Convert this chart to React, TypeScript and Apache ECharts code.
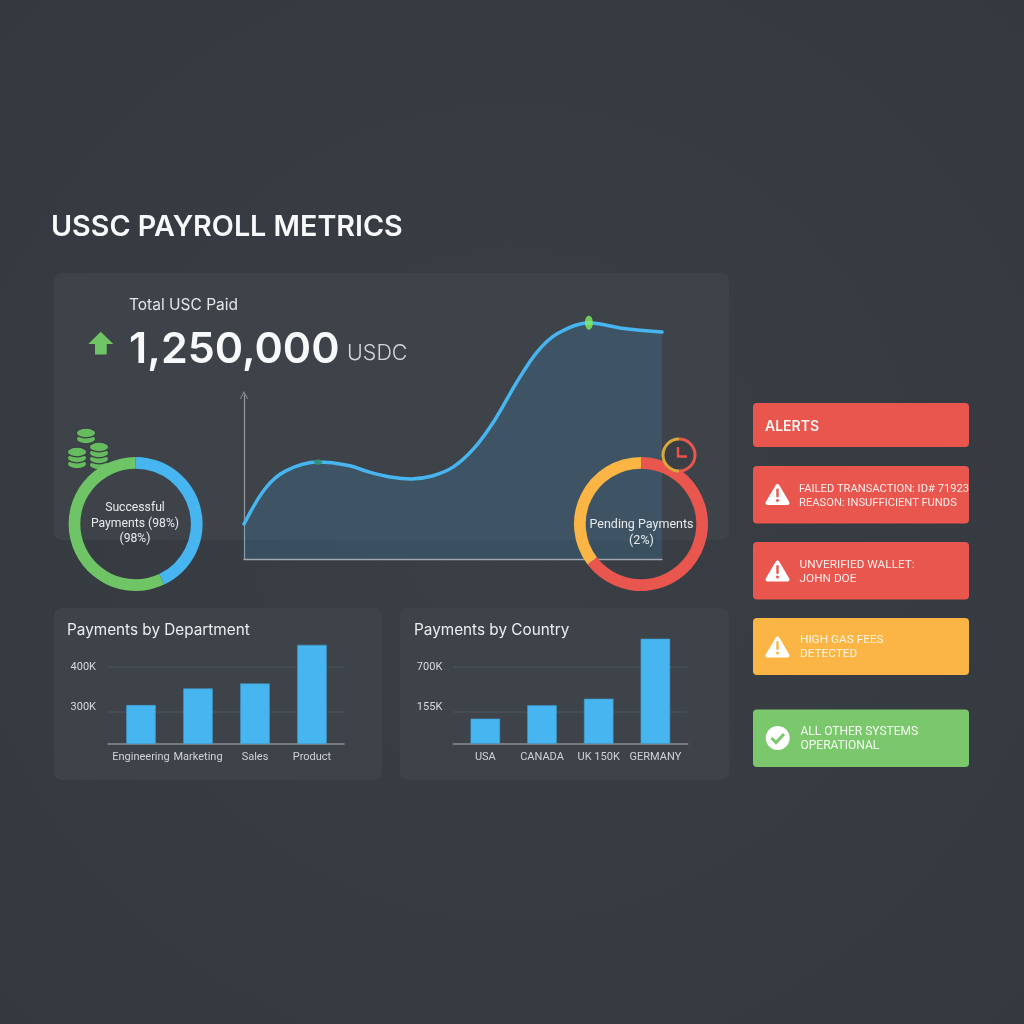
import React, { useEffect, useRef } from "react";
import * as echarts from "echarts";

const FONT = "Inter, 'Noto Sans', sans-serif";
const SMALL = "Roboto, 'Noto Sans', sans-serif";

const pageTitle = "USSC PAYROLL METRICS";
const kpiLabel = "Total USC Paid";
const kpiValue = "1,250,000";
const kpiUnit = "USDC";

const trendX = [0, 5, 10, 17.7, 25, 30, 35, 40, 45, 50, 55, 60, 65, 70, 75, 82.5, 90, 100];
const trendY = [21.3, 42.7, 53.7, 59.1, 57, 53, 50, 48.8, 50.6, 56, 67.4, 84.8, 106.7, 125.9, 137.5, 144.1, 140.9, 138.4];

const successSlices = [43, 57];
const pendingSlices = [64.7, 35.3];
const clockSlices = [50, 50];
const successText = ["Successful", "Payments (98%)", "(98%)"];
const pendingText = ["Pending Payments", "(2%)"];

const deptTitle = "Payments by Department";
const deptCategories = ["Engineering", "Marketing", "Sales", "Product"];
const deptValues = [314, 351, 362, 448];
const deptTicks = [300, 400];
const deptTickLabels = ["300K", "400K"];

const countryTitle = "Payments by Country";
const countryCategories = ["USA", "CANADA", "UK 150K", "GERMANY"];
const countryValues = [227, 348, 408, 952];
const countryTicks = [292, 700];
const countryTickLabels = ["155K", "700K"];

const alertsTitle = "ALERTS";
const failedLines = ["FAILED TRANSACTION: ID# 71923", "REASON: INSUFFICIENT FUNDS"];
const walletLines = ["UNVERIFIED WALLET:", "JOHN DOE"];
const gasLines = ["HIGH GAS FEES", "DETECTED"];
const okLines = ["ALL OTHER SYSTEMS", "OPERATIONAL"];

const RED = "#e9564e";
const ORANGE = "#fbb545";
const GREEN = "#7ac76c";
const BLUE = "#47b5f0";

function txt(text: string, x: number, y: number, size: number, fill: string, weight: number | string = 400, align = "left", family = FONT) {
  return {
    type: "text",
    z: 20,
    silent: true,
    style: { text, x, y, fill, align, verticalAlign: "middle", font: `${weight} ${size}px ${family}` },
  };
}

function panel(x: number, y: number, w: number, h: number, fill: string, r = 8, z = -2) {
  return { type: "rect", z, silent: true, shape: { x, y, width: w, height: h, r }, style: { fill } };
}

function warning(cx: number, cy: number, color: string) {
  return [
    { type: "polygon", z: 20, silent: true, shape: { points: [[cx, cy - 8.5], [cx + 10, cy + 8.5], [cx - 10, cy + 8.5]] }, style: { fill: "#fff", stroke: "#fff", lineWidth: 4, lineJoin: "round" } },
    { type: "rect", z: 21, silent: true, shape: { x: cx - 1.2, y: cy - 6, width: 2.4, height: 9, r: 1 }, style: { fill: color } },
    { type: "circle", z: 21, silent: true, shape: { cx, cy: cy + 6, r: 1.5 }, style: { fill: color } },
  ];
}

function coinStack(cx: number, cy: number, n: number) {
  const out: any[] = [];
  for (let i = n - 1; i >= 0; i--) {
    out.push({ type: "ellipse", z: 1, silent: true, shape: { cx, cy: cy + i * 6, rx: 9.7, ry: 4.8 }, style: { fill: "#66bb5e", stroke: "#3a3f45", lineWidth: 1.2 } });
  }
  return out;
}

function alertBox(y: number, h: number, color: string) {
  return panel(753, y, 216, h, color, 4, 1);
}

function barSet(
  gridIndex: number,
  left: number,
  right: number,
  first: number,
  step: number,
  cats: string[],
  values: number[],
  ticks: number[],
  tickLabels: string[],
  yMin: number,
  yMax: number,
  yMargin: number,
  lift: string,
) {
  const grid = { left, top: 630, width: right - left, height: 113.7 };
  const xAxis = {
    type: "value",
    gridIndex,
    min: (left - first) / step,
    max: (right - first) / step,
    splitLine: { show: false },
    axisTick: { show: false },
    axisLine: { show: true, onZero: false, lineStyle: { color: "#8b8e91", width: 1.6 } },
    axisLabel: {
      customValues: cats.map((_, i) => i),
      formatter: (v: number) => cats[Math.round(v)],
      color: "#d0d3d6",
      fontSize: 11,
      fontFamily: SMALL,
      margin: 7,
      hideOverlap: false,
      showMinLabel: true,
      showMaxLabel: true,
    },
  };
  const yAxis = {
    type: "value",
    gridIndex,
    min: yMin,
    max: yMax,
    axisLine: { show: false },
    axisTick: { show: false, customValues: ticks },
    splitLine: { show: true, lineStyle: { color: "#4a5056", width: 1.5 } },
    axisLabel: {
      customValues: ticks,
      margin: yMargin,
      formatter: (v: number) => {
        const label = tickLabels[ticks.indexOf(v)];
        return v === ticks[0] ? `{${lift}|${label}}` : label;
      },
      color: "#d8dbde",
      fontSize: 11,
      fontFamily: SMALL,
      rich: { [lift]: { padding: [0, 0, 10, 0], color: "#d8dbde", fontSize: 11, fontFamily: SMALL } },
    },
  };
  const series = {
    type: "bar",
    xAxisIndex: gridIndex,
    yAxisIndex: gridIndex,
    barWidth: 29.5,
    silent: true,
    data: values.map((v, i) => [i, v]),
    itemStyle: { color: BLUE, borderColor: "#3d9ccf", borderWidth: 0.6 },
  };
  return { grid, xAxis, yAxis, series };
}

export default function App() {
  const ref = useRef<HTMLDivElement>(null);

  useEffect(() => {
    document.body.style.margin = "0";
    const chart = echarts.init(ref.current!, undefined, { renderer: "svg" });

    const dept = barSet(1, 108, 344, 141, 57, deptCategories, deptValues, deptTicks, deptTickLabels, 228, 481, 12, "d");
    const country = barSet(2, 453.3, 687.7, 485.3, 56.7, countryCategories, countryValues, countryTicks, countryTickLabels, 0, 1031, 11, "c");

    const trend = trendX.map((x, i) => [x, trendY[i]]);
    const peakIdx = trendY.indexOf(Math.max(...trendY));
    const shoulderIdx = trendY.indexOf(Math.max(...trendY.slice(0, 8)));

    const ring = (center: number[], values: number[], colors: string[], radius: number[], z: number) => ({
      type: "pie",
      center,
      radius,
      z,
      silent: true,
      startAngle: 90,
      clockwise: true,
      label: { show: false },
      labelLine: { show: false },
      emphasis: { disabled: true },
      data: values.map((value, i) => ({ value, itemStyle: { color: colors[i] } })),
    });

    chart.setOption({
      animation: false,
      backgroundColor: {
        type: "radial",
        x: 0.5,
        y: 0.5,
        r: 0.75,
        colorStops: [
          { offset: 0, color: "#3a3f45" },
          { offset: 1, color: "#34393f" },
        ],
      },
      grid: [{ left: 244, top: 395, width: 418, height: 164 }, dept.grid, country.grid],
      xAxis: [
        {
          type: "value",
          gridIndex: 0,
          min: 0,
          max: 100,
          axisLabel: { show: false },
          axisTick: { show: false },
          splitLine: { show: false },
          axisLine: { show: true, lineStyle: { color: "#a2a6aa", width: 1.3 } },
        },
        dept.xAxis,
        country.xAxis,
      ],
      yAxis: [
        {
          type: "value",
          gridIndex: 0,
          min: 0,
          max: 100,
          axisLabel: { show: false },
          axisTick: { show: false },
          splitLine: { show: false },
          axisLine: {
            show: true,
            symbol: ["none", "path://M0 10L5 0L10 10L9 10L5 2.5L1 10Z"],
            symbolSize: [8, 8],
            lineStyle: { color: "#94989c", width: 1.2 },
          },
        },
        dept.yAxis,
        country.yAxis,
      ],
      series: [
        {
          type: "line",
          xAxisIndex: 0,
          yAxisIndex: 0,
          data: trend,
          smooth: 0.33,
          clip: false,
          silent: true,
          showSymbol: false,
          z: 2,
          lineStyle: { color: BLUE, width: 3.5, cap: "round" },
          areaStyle: { color: "rgba(64,174,240,0.23)" },
        },
        {
          type: "scatter",
          xAxisIndex: 0,
          yAxisIndex: 0,
          clip: false,
          silent: true,
          z: 3,
          data: [
            { value: trend[peakIdx], symbolSize: [8, 14], itemStyle: { color: "#80ee60" } },
            { value: trend[shoulderIdx], symbolSize: [8, 6], itemStyle: { color: "#2f8a6a" } },
          ],
        },
        dept.series,
        country.series,
        ring([135.6, 524], successSlices, [BLUE, "#6fc466"], [55.3, 67], 4),
        ring([641, 524], pendingSlices, ["#e9564e", "#fbb545"], [55.3, 67], 4),
        ring([679, 455], clockSlices, ["#e9564e", "#d9a83a"], [14.5, 17.5], 7),
      ],
      graphic: {
        elements: [
          panel(54, 273, 675, 267, "#3e4349"),
          panel(54, 608, 328, 172, "#3e4349"),
          panel(400, 608, 329, 172, "#3e4349"),

          txt(pageTitle, 51, 225.5, 28.7, "#f8f9fa", 600),
          txt(kpiLabel, 129, 304, 15.5, "#e4e6e8", 400),
          txt(kpiValue, 129, 346.5, 43, "#f8f9fa", 600),
          txt(kpiUnit, 347, 352, 21.5, "#d4d7da", 300),
          {
            type: "polygon",
            z: 20,
            silent: true,
            shape: { points: [[100.7, 331.7], [113.3, 344], [106.7, 344], [106.7, 354.5], [95, 354.5], [95, 344], [88.3, 344]] },
            style: { fill: "#6fc466" },
          },

          ...coinStack(86, 433, 2),
          ...coinStack(77, 452, 3),
          ...coinStack(99, 447, 4),

          ...successText.map((t, i) => txt(t, 135, 507 + i * 15.7, 12.2, "#e8eaec", 400, "center", SMALL)),
          ...pendingText.map((t, i) => txt(t, 641.5, 523 + i * 16, 12.5, "#e8eaec", 400, "center", SMALL)),

          { type: "circle", z: 6, silent: true, shape: { cx: 679, cy: 455, r: 15 }, style: { fill: "#3a3f45" } },
          { type: "polyline", z: 20, silent: true, shape: { points: [[678, 447], [678, 456.5], [687, 456.5]] }, style: { stroke: "#ec5046", lineWidth: 2.4, fill: "none" } },

          txt(deptTitle, 67, 629.5, 15.3, "#eceef0", 400),
          txt(countryTitle, 414, 629.5, 15.3, "#eceef0", 400),

          alertBox(403, 44, RED),
          alertBox(466, 57.5, RED),
          alertBox(542, 57.5, RED),
          alertBox(618, 57, ORANGE),
          alertBox(709.5, 57.5, GREEN),

          txt(alertsTitle, 765, 425, 14, "#fdf3f2", 600),
          ...failedLines.map((t, i) => txt(t, 799, 488 + i * 14.3, 11.2, "#fdecea", 400, "left", SMALL)),
          ...walletLines.map((t, i) => txt(t, 799.5, 563.5 + i * 14.3, 11.8, "#fdecea", 400, "left", SMALL)),
          ...gasLines.map((t, i) => txt(t, 800, 639 + i * 14.3, 11.8, "#fff4e0", 400, "left", SMALL)),
          ...okLines.map((t, i) => txt(t, 800.5, 730.5 + i * 14.7, 12, "#f4fbf2", 400, "left", SMALL)),

          ...warning(777.5, 494.5, RED),
          ...warning(777.5, 571, RED),
          ...warning(777.5, 647, ORANGE),
          { type: "circle", z: 20, silent: true, shape: { cx: 777.7, cy: 738, r: 12 }, style: { fill: "#fff" } },
          { type: "polyline", z: 21, silent: true, shape: { points: [[771.5, 738], [776, 742.5], [784, 734]] }, style: { stroke: GREEN, lineWidth: 3, fill: "none" } },
        ],
      },
    });

    return () => chart.dispose();
  }, []);

  return <div ref={ref} style={{ position: "fixed", left: 0, top: 0, width: 1024, height: 1024 }} />;
}
